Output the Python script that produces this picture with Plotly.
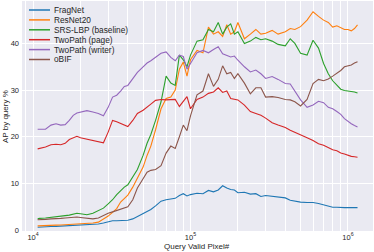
import plotly.graph_objects as go

# Query valid pixel counts (x positions of samples)
query_pixels = [10700, 11000, 12000, 13000, 14000, 15000, 16000, 17000, 18000, 19000,
                20000, 22000, 24000, 26000, 28000, 30000, 32000, 34000, 36000, 38000,
                40000, 43000, 46000, 50000, 53000, 56000, 60000, 65000, 70000, 75000,
                80000, 85000, 90000, 95000, 100000, 110000, 120000, 130000, 140000, 150000,
                160000, 170000, 180000, 190000, 200000, 220000, 240000, 260000, 280000, 300000,
                330000, 360000, 400000, 430000, 460000, 500000, 550000, 600000, 650000, 700000,
                750000, 800000, 850000, 900000, 950000, 1000000, 1050000, 1100000, 1150000]

fragnet = [0.6, 0.6, 0.7, 0.75, 0.8, 0.85, 0.9, 0.95, 1.0, 1.05,
           1.1, 1.15, 1.2, 1.3, 1.5, 1.8, 2.0, 2.0, 2.0, 2.0,
           2.1, 2.4, 2.9, 3.6, 4.1, 4.4, 5.2, 6.2, 6.5, 6.7,
           6.8, 7.4, 7.8, 7.3, 7.6, 7.9, 7.8, 8.5, 8.2, 8.6,
           9.5, 9.0, 8.7, 8.6, 8.0, 8.1, 7.7, 7.8, 7.2, 7.4,
           7.2, 7.0, 6.9, 6.4, 6.2, 6.0, 5.9, 5.9, 5.7, 5.4,
           5.1, 4.9, 4.9, 4.8, 4.8, 4.8, 4.8, 4.7, 4.8]

resnet20 = [0.9, 0.9, 0.95, 1.0, 1.05, 1.1, 1.15, 1.2, 1.25, 1.3,
            1.3, 1.4, 1.5, 1.7, 2.3, 3.0, 3.8, 4.6, 6.0, 6.8,
            7.5, 9.2, 11.0, 13.5, 16.0, 18.0, 21.5, 26.0, 28.2, 28.5,
            30.0, 34.5, 36.0, 33.0, 36.5, 38.5, 38.0, 43.5, 42.0, 42.5,
            41.5, 44.0, 42.0, 42.5, 44.5, 41.0, 42.0, 43.0, 42.0, 42.2,
            42.8, 42.0, 42.5, 43.2, 43.0, 43.6, 45.0, 46.8, 45.8, 45.0,
            44.5, 43.5, 43.8, 43.3, 43.0, 43.0, 42.7, 43.2, 44.0]

srs_lbp = [2.4, 2.5, 2.6, 2.7, 2.8, 3.0, 3.1, 3.2, 3.4, 3.6,
           3.5, 3.3, 3.6, 4.2, 4.7, 5.6, 6.5, 7.6, 8.5, 9.2,
           9.7, 11.3, 13.0, 16.0, 18.6, 20.5, 23.5, 27.5, 33.0, 31.5,
           31.0, 37.5, 36.5, 35.0, 37.5, 40.5, 40.8, 43.0, 42.5, 44.5,
           42.0, 43.5, 44.2, 42.0, 42.5, 40.0, 40.5, 41.3, 40.8, 41.0,
           40.5, 39.8, 39.5, 41.0, 40.0, 37.9, 37.5, 40.7, 39.0, 35.7,
           33.5, 32.0, 31.1, 30.2, 29.9, 29.8, 29.8, 29.6, 29.4]

twopath_page = [17.4, 17.5, 17.8, 18.3, 18.4, 18.3, 18.6, 19.4, 19.8, 20.1,
                19.8, 19.5, 19.3, 19.0, 18.7, 21.0, 23.5, 23.2, 22.8, 22.4,
                22.2, 23.5, 25.0, 25.7, 26.3, 27.0, 27.8, 28.0, 27.9, 27.9,
                28.0, 26.5, 27.5, 28.6, 26.0, 28.0, 28.5, 29.3, 29.6, 30.5,
                29.5, 29.8, 28.2, 28.0, 27.9, 26.8, 25.4, 25.0, 24.6, 24.0,
                23.0, 22.5, 22.0, 21.4, 21.0, 20.5, 19.8, 19.2, 18.5, 18.2,
                17.7, 17.2, 17.0, 16.5, 16.3, 16.0, 15.8, 15.7, 15.6]

twopath_writer = [21.6, 21.6, 21.6, 22.5, 22.8, 22.5, 22.6, 23.5, 24.6, 25.1,
                  25.3, 25.6, 25.3, 25.0, 24.5, 26.3, 28.5, 28.9, 29.8, 30.8,
                  31.0, 32.5, 33.8, 35.0, 35.8, 36.3, 37.0, 37.9, 38.2, 37.0,
                  36.3, 37.5, 37.2, 34.5, 35.7, 38.0, 38.5, 38.0, 38.7, 39.3,
                  37.8, 37.5, 37.1, 37.3, 36.4, 35.0, 33.9, 34.3, 33.5, 32.5,
                  32.9, 32.3, 31.4, 31.3, 29.8, 27.9, 26.3, 26.8, 27.6, 27.3,
                  26.3, 26.0, 25.4, 24.8, 23.9, 23.3, 22.8, 22.4, 22.1]

obif = [2.2, 2.2, 2.3, 2.4, 2.4, 2.5, 2.6, 2.7, 2.8, 2.8,
        2.7, 2.5, 2.4, 2.6, 3.2, 3.6, 3.9, 4.2, 4.5, 4.8,
        5.0, 6.5, 9.0, 11.0, 12.4, 12.8, 13.0, 13.8, 16.5, 18.0,
        17.5, 20.0, 22.5, 21.3, 24.5, 29.0, 29.8, 33.5, 30.8, 32.3,
        35.2, 33.5, 33.8, 32.5, 33.5, 31.5, 29.2, 30.5, 30.5, 28.5,
        28.6, 28.4, 28.0, 27.9, 27.5, 26.6, 28.0, 31.4, 32.3, 32.0,
        32.4, 33.0, 33.6, 34.2, 35.0, 35.2, 35.4, 35.8, 36.1]

series_names = ["FragNet", "ResNet20", "SRS-LBP (baseline)", "TwoPath (page)",
                "TwoPath (writer)", "oBIF"]
series_values = [fragnet, resnet20, srs_lbp, twopath_page, twopath_writer, obif]
colors = ["#1f77b4", "#ff7f0e", "#2ca02c", "#d62728", "#9467bd", "#8c564b"]

y_ticks = [0, 10, 20, 30, 40]
x_major = [1e4, 1e5, 1e6]
x_major_text = ["10<sup>4</sup>", "10<sup>5</sup>", "10<sup>6</sup>"]
x_title = "Query Valid Pixel#"
y_title = "AP by query %"

x_tickvals = []
x_ticktext = []
for dec in [1e3, 1e4, 1e5, 1e6]:
    for m in range(1, 10):
        v = dec * m
        if v < 8e3 or v > 1.5e6:
            continue
        x_tickvals.append(v)
        x_ticktext.append(x_major_text[x_major.index(v)] if v in x_major else "")

W, H = 374, 252
L, R, T, B = 22, 1, 1, 21
FONT = "Liberation Sans, Arial, sans-serif"
TXT = "#262626"

fig = go.Figure()
for name, vals, col in zip(series_names, series_values, colors):
    fig.add_trace(go.Scatter(x=query_pixels, y=vals, mode="lines", name=name,
                             line=dict(color=col, width=1.1), showlegend=False))

pw, ph = W - L - R, H - T - B
def px2paper(px, py):
    return (px - L) / pw, (H - B - py) / ph

# compact legend in matplotlib style
for i, (name, col) in enumerate(zip(series_names, colors)):
    py = 10 + 9.9 * i
    x0, y0 = px2paper(29, py)
    x1, _ = px2paper(50, py)
    xt, _ = px2paper(52, py)
    fig.add_shape(type="line", xref="paper", yref="paper", x0=x0, x1=x1, y0=y0, y1=y0,
                  line=dict(color=col, width=1.5))
    fig.add_annotation(xref="paper", yref="paper", x=xt, y=y0, text=name, showarrow=False,
                       xanchor="left", yanchor="middle", font=dict(family=FONT, size=8.3, color=TXT))

# axis titles
xtx, xty = px2paper(197, 246)
fig.add_annotation(xref="paper", yref="paper", x=xtx, y=xty, text=x_title, showarrow=False,
                   xanchor="center", yanchor="middle", font=dict(family=FONT, size=8, color=TXT))
ytx, yty = px2paper(5, 117)
fig.add_annotation(xref="paper", yref="paper", x=ytx, y=yty, text=y_title, showarrow=False,
                   textangle=-90, xanchor="center", yanchor="middle",
                   font=dict(family=FONT, size=8, color=TXT))

fig.update_layout(
    width=W, height=H,
    margin=dict(l=L, r=R, t=T, b=B),
    paper_bgcolor="white", plot_bgcolor="#EAEAF2",
    font=dict(family=FONT, size=8, color=TXT),
    showlegend=False,
)
fig.update_xaxes(type="log", range=[3.930, 6.159], tickvals=x_tickvals, ticktext=x_ticktext,
                 showgrid=True, gridcolor="white", gridwidth=1, zeroline=False, showline=False,
                 ticks="", tickfont=dict(size=7.5), ticklabelstandoff=0, automargin=False)
fig.update_yaxes(range=[-0.2, 49.1], tickvals=y_ticks, showgrid=True, gridcolor="white",
                 gridwidth=1, zeroline=False, showline=False, ticks="", tickfont=dict(size=7.5),
                 ticklabelstandoff=2, automargin=False)

fig.write_html("out.html", config={"displayModeBar": False},
               post_script="document.body.style.margin='0px';")
